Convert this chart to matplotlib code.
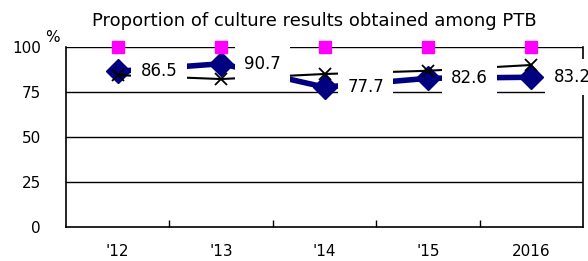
import matplotlib.pyplot as plt

years = ["'12", "'13", "'14", "'15", "2016"]
culture_pct = [86.5, 90.7, 77.7, 82.6, 83.2]
other_pct = [84.4, 82.2, 85.0, 86.8, 90.0]
target_pct = [100, 100, 100, 100, 100]

plt.rcParams['font.family'] = ['DejaVu Sans']

fig = plt.figure(figsize=(5.88, 2.61), dpi=100)
ax = fig.add_axes([66 / 588, 34 / 261, 517 / 588, 180 / 261])

x = list(range(len(years)))

for y in [25, 50, 75, 100]:
    ax.axhline(y, color='black', lw=1, zorder=1)

ax.plot(x, culture_pct, color='#000080', lw=4, marker='D', ms=12,
        zorder=3)
ax.plot(x, other_pct, color='black', lw=1.5, marker='x', ms=9, mew=1.3,
        zorder=4)
ax.plot(x, target_pct, ls='none', color='#ff00ff', marker='s', ms=8,
        zorder=5, clip_on=False)

for xi, v in zip(x, culture_pct):
    ax.annotate(f'{v}', (xi, v), xytext=(16.5, 0), textcoords='offset points',
                ha='left', va='center', fontsize=12, zorder=6,
                bbox=dict(boxstyle='square,pad=0.55', fc='white', ec='none'))

ax.set_xlim(-0.5, len(years) - 0.5)
ax.set_ylim(0, 100)
ax.set_yticks([0, 25, 50, 75, 100])
ax.tick_params(axis='y', length=0, labelsize=11, pad=18)
ax.set_xticks(x)
ax.set_xticklabels(years)
ax.tick_params(axis='x', which='major', length=0, labelsize=11, pad=12)
ax.set_xticks([0.5, 1.5, 2.5, 3.5], minor=True)
ax.tick_params(axis='x', which='minor', direction='in', length=5, width=1)

ax.spines['top'].set_visible(False)
for s in ['left', 'bottom', 'right']:
    ax.spines[s].set_linewidth(1.2)

fig.text(52 / 588, 1 - 38 / 261, '%', fontsize=11, ha='center', va='center')
fig.text(314 / 588, 1 - 21 / 261, 'Proportion of culture results obtained among PTB',
         fontsize=13, ha='center', va='center')

fig.savefig('out.png', dpi=100)
